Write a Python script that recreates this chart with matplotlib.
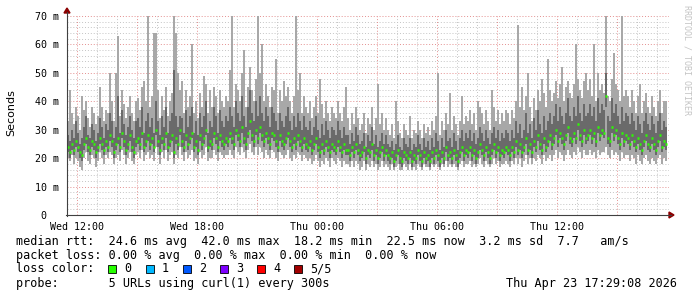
import numpy as np
import matplotlib
matplotlib.use("Agg")
import matplotlib.pyplot as plt
from matplotlib.patches import Polygon, Rectangle
from matplotlib.lines import Line2D

W, H = 697, 297

# samples every 6 minutes starting Wed 11:30, values in ms
med = [
    24, 22, 25, 23, 26, 24, 22, 21, 25, 27, 24, 23, 26, 25, 22, 24, 27, 25, 23, 26,
    24, 28, 26, 22, 25, 27, 24, 29, 26, 23, 25, 28, 24, 22, 26, 27, 25, 29, 24, 26,
    28, 25, 27, 24, 30, 26, 23, 27, 25, 29, 24, 26, 28, 22, 27, 25, 30, 26, 24, 28,
    25, 27, 29, 24, 26, 23, 28, 25, 27, 30, 24, 26, 25, 29, 27, 24, 28, 26, 25, 27,
    26, 29, 27, 25, 30, 28, 26, 31, 27, 25, 29, 33, 28, 26, 30, 27, 31, 28, 26, 29,
    27, 25, 29, 28, 26, 24, 28, 26, 25, 27, 29, 26, 24, 27, 25, 28, 26, 24, 27, 25,
    24, 26, 23, 25, 27, 24, 22, 25, 23, 26, 24, 22, 25, 24, 23, 26, 24, 22, 25, 23,
    23, 21, 24, 22, 25, 23, 21, 22, 24, 20, 23, 22, 25, 21, 23, 20, 22, 24, 21, 23,
    21, 20, 22, 19, 21, 23, 20, 19, 22, 21, 20, 22, 19, 21, 20, 23, 21, 19, 22, 20,
    21, 19, 22, 20, 23, 21, 19, 22, 20, 24, 21, 22, 20, 23, 21, 19, 22, 24, 21, 23,
    22, 24, 21, 23, 20, 22, 25, 23, 21, 24, 22, 20, 23, 25, 22, 24, 21, 23, 22, 24,
    23, 21, 24, 22, 26, 23, 25, 22, 24, 27, 23, 25, 22, 26, 24, 28, 25, 23, 27, 24,
    26, 28, 25, 27, 30, 26, 29, 27, 25, 28, 31, 27, 26, 29, 27, 32, 28, 26, 30, 27,
    28, 30, 27, 29, 26, 31, 28, 30, 29, 42, 27, 26, 31, 28, 30, 27, 25, 29, 26, 28,
    27, 25, 28, 26, 24, 27, 25, 23, 26, 28, 25, 24, 27, 25, 23, 26, 28, 24, 26, 25,
]
lo = [
    20, 19, 21, 18, 20, 19, 17, 16, 20, 22, 19, 18, 21, 20, 17, 19, 22, 20, 18, 21,
    20, 22, 21, 18, 20, 21, 19, 23, 21, 18, 20, 22, 19, 18, 21, 22, 20, 23, 19, 21,
    22, 20, 21, 19, 24, 21, 18, 22, 20, 23, 19, 21, 22, 18, 21, 20, 24, 21, 19, 22,
    20, 21, 23, 19, 20, 18, 22, 20, 21, 24, 19, 20, 20, 23, 21, 19, 22, 21, 20, 21,
    21, 23, 21, 20, 24, 22, 21, 24, 22, 20, 23, 25, 22, 21, 24, 21, 24, 22, 20, 23,
    21, 20, 23, 22, 20, 19, 22, 21, 20, 21, 23, 20, 19, 21, 20, 22, 21, 19, 21, 20,
    19, 20, 18, 19, 21, 19, 17, 19, 18, 20, 19, 17, 20, 19, 18, 20, 19, 17, 19, 18,
    18, 17, 19, 17, 19, 18, 16, 17, 19, 16, 18, 17, 19, 17, 18, 16, 17, 19, 17, 18,
    17, 16, 18, 16, 17, 18, 16, 16, 18, 17, 16, 18, 16, 17, 16, 18, 17, 16, 18, 17,
    17, 16, 18, 17, 18, 17, 16, 18, 17, 19, 17, 18, 17, 18, 17, 16, 18, 19, 17, 18,
    18, 19, 17, 18, 17, 18, 20, 18, 17, 19, 18, 17, 18, 20, 18, 19, 17, 18, 18, 19,
    18, 17, 19, 18, 20, 18, 20, 17, 19, 21, 18, 20, 18, 20, 19, 21, 20, 18, 21, 19,
    20, 21, 19, 21, 23, 20, 22, 21, 19, 21, 23, 21, 20, 22, 21, 24, 22, 20, 23, 21,
    21, 23, 21, 22, 20, 23, 21, 22, 22, 24, 21, 20, 23, 21, 22, 21, 19, 22, 20, 21,
    21, 19, 21, 20, 18, 21, 19, 18, 20, 21, 19, 18, 20, 19, 18, 20, 21, 18, 20, 19,
]
q1 = [
    22, 20, 23, 21, 24, 22, 20, 19, 23, 25, 22, 21, 24, 23, 20, 22, 25, 23, 21, 24,
    22, 26, 24, 20, 23, 25, 22, 27, 24, 21, 23, 26, 22, 20, 24, 25, 23, 27, 22, 24,
    26, 23, 25, 22, 28, 24, 21, 25, 23, 27, 22, 24, 26, 20, 25, 23, 28, 24, 22, 26,
    23, 25, 27, 22, 24, 21, 26, 23, 25, 28, 22, 24, 23, 27, 25, 22, 26, 24, 23, 25,
    24, 27, 25, 23, 28, 26, 24, 29, 25, 23, 27, 30, 26, 24, 28, 25, 29, 26, 24, 27,
    25, 23, 27, 26, 24, 22, 26, 24, 23, 25, 27, 24, 22, 25, 23, 26, 24, 22, 25, 23,
    22, 24, 21, 23, 25, 22, 20, 23, 21, 24, 22, 20, 23, 22, 21, 24, 22, 20, 23, 21,
    21, 19, 22, 20, 23, 21, 19, 20, 22, 18, 21, 20, 23, 19, 21, 18, 20, 22, 19, 21,
    19, 18, 20, 17, 19, 21, 18, 17, 20, 19, 18, 20, 17, 19, 18, 21, 19, 17, 20, 18,
    19, 17, 20, 18, 21, 19, 17, 20, 18, 22, 19, 20, 18, 21, 19, 17, 20, 22, 19, 21,
    20, 22, 19, 21, 18, 20, 23, 21, 19, 22, 20, 18, 21, 23, 20, 22, 19, 21, 20, 22,
    21, 19, 22, 20, 24, 21, 23, 20, 22, 25, 21, 23, 20, 24, 22, 26, 23, 21, 25, 22,
    24, 26, 23, 25, 28, 24, 27, 25, 23, 26, 29, 25, 24, 27, 25, 30, 26, 24, 28, 25,
    26, 28, 25, 27, 24, 29, 26, 28, 27, 38, 25, 24, 29, 26, 28, 25, 23, 27, 24, 26,
    25, 23, 26, 24, 22, 25, 23, 21, 24, 26, 23, 22, 25, 23, 21, 24, 26, 22, 24, 23,
]
q3 = [
    28, 26, 30, 27, 33, 29, 25, 27, 31, 35, 28, 27, 32, 30, 26, 29, 34, 31, 27, 32,
    30, 36, 33, 27, 31, 42, 29, 37, 32, 28, 31, 35, 30, 27, 33, 34, 31, 38, 29, 33,
    36, 31, 34, 29, 40, 33, 28, 35, 31, 38, 29, 33, 36, 51, 35, 31, 35, 34, 29, 37,
    31, 35, 38, 29, 33, 28, 36, 31, 35, 40, 29, 33, 31, 38, 35, 29, 37, 33, 31, 35,
    33, 38, 35, 31, 40, 36, 33, 42, 35, 31, 38, 44, 36, 33, 40, 35, 42, 36, 33, 38,
    35, 31, 38, 36, 33, 30, 36, 33, 31, 35, 38, 33, 30, 35, 31, 36, 33, 30, 35, 31,
    30, 33, 28, 31, 35, 30, 27, 32, 28, 33, 30, 27, 31, 30, 28, 33, 30, 27, 31, 28,
    28, 25, 29, 26, 31, 28, 25, 26, 29, 24, 28, 26, 31, 25, 28, 24, 26, 29, 25, 28,
    25, 24, 26, 23, 25, 28, 24, 23, 27, 25, 24, 27, 23, 25, 24, 28, 25, 23, 27, 24,
    26, 23, 27, 24, 29, 26, 23, 27, 24, 30, 26, 27, 24, 29, 26, 23, 27, 30, 26, 29,
    27, 30, 26, 29, 25, 27, 31, 29, 26, 30, 27, 25, 29, 31, 27, 30, 26, 29, 27, 30,
    29, 26, 30, 27, 33, 29, 32, 27, 30, 36, 29, 32, 27, 34, 30, 37, 32, 29, 35, 30,
    33, 36, 32, 35, 39, 33, 38, 35, 32, 36, 41, 35, 33, 38, 35, 42, 36, 33, 39, 35,
    36, 39, 35, 38, 33, 41, 36, 39, 37, 50, 35, 33, 41, 36, 39, 35, 32, 38, 33, 36,
    35, 32, 36, 33, 30, 35, 32, 29, 33, 36, 32, 30, 35, 32, 29, 33, 36, 30, 33, 31,
]
hi = [
    33, 44, 36, 32, 38, 35, 30, 42, 37, 40, 34, 31, 38, 36, 32, 35, 45, 38, 33, 37,
    36, 50, 40, 33, 50, 63, 35, 44, 39, 34, 38, 42, 36, 33, 40, 41, 37, 45, 47, 40,
    70, 38, 42, 64, 64, 44, 34, 42, 37, 45, 35, 40, 43, 70, 64, 50, 44, 47, 36, 44,
    38, 42, 60, 36, 40, 34, 43, 38, 49, 46, 36, 44, 38, 45, 42, 36, 44, 40, 38, 42,
    40, 51, 70, 38, 46, 44, 40, 50, 58, 38, 45, 52, 44, 40, 48, 70, 50, 60, 40, 46,
    42, 38, 45, 44, 55, 36, 44, 40, 47, 42, 45, 40, 36, 42, 70, 44, 50, 36, 42, 38,
    36, 40, 34, 38, 42, 36, 48, 39, 34, 40, 36, 33, 38, 36, 34, 40, 36, 33, 38, 45,
    34, 30, 36, 32, 38, 34, 30, 32, 36, 29, 34, 32, 38, 30, 34, 46, 32, 36, 30, 34,
    30, 28, 32, 27, 40, 33, 29, 27, 32, 30, 28, 35, 27, 30, 29, 33, 30, 27, 32, 29,
    31, 28, 33, 30, 35, 50, 28, 33, 30, 36, 32, 43, 30, 35, 32, 28, 33, 42, 32, 35,
    33, 37, 32, 36, 30, 40, 38, 36, 32, 37, 33, 30, 44, 38, 33, 37, 32, 36, 33, 37,
    36, 32, 37, 34, 40, 67, 38, 45, 37, 42, 50, 38, 33, 41, 37, 44, 40, 48, 43, 38,
    55, 44, 40, 43, 47, 41, 46, 52, 40, 45, 47, 43, 41, 46, 60, 48, 44, 41, 47, 50,
    44, 48, 42, 60, 40, 50, 44, 46, 43, 70, 42, 40, 48, 57, 46, 44, 40, 70, 42, 44,
    42, 38, 44, 40, 36, 42, 46, 36, 40, 43, 38, 36, 42, 38, 35, 40, 44, 36, 40, 40,
]

x_ticks = [0.5, 6.5, 12.5, 18.5, 24.5]
x_labels = ["Wed 12:00", "Wed 18:00", "Thu 00:00", "Thu 06:00", "Thu 12:00"]
y_ticks = [0, 10, 20, 30, 40, 50, 60, 70]
y_labels = ["0  ", "10 m", "20 m", "30 m", "40 m", "50 m", "60 m", "70 m"]

loss_labels = ["0", "1", "2", "3", "4", "5/5"]
loss_colors = ["#26ff00", "#00b8ff", "#0059ff", "#7e00ff", "#ff0000", "#a10000"]

legend_rows = [
    "median rtt:  24.6 ms avg  42.0 ms max  18.2 ms min  22.5 ms now  3.2 ms sd  7.7   am/s",
    "packet loss: 0.00 % avg  0.00 % max  0.00 % min  0.00 % now",
    "loss color:",
    "probe:       5 URLs using curl(1) every 300s",
]
stamp = "Thu Apr 23 17:29:08 2026"

STEP = 0.1  # hours
MONO = "DejaVu Sans Mono"


def fx(x):
    return x / W


def fy(y):
    return 1 - y / H


fig = plt.figure(figsize=(W / 100, H / 100), dpi=100)
fig.patch.set_facecolor("white")

ax = fig.add_axes([fx(67), fy(215), (669 - 67) / W, (215 - 16) / H])
ax.set_xlim(0, 30.1)
ax.set_ylim(0, 70)
for s in ax.spines.values():
    s.set_visible(False)

# grid
for y in range(2, 71, 2):
    major = y % 10 == 0
    ax.axhline(y, color="#e48f8f" if major else "#c4c4c4", lw=0.7,
               ls=(0, (1, 2)), zorder=0)
for k in range(31):
    xv = 0.5 + k
    major = k % 3 == 0
    ax.axvline(xv, color="#e48f8f" if major else "#c4c4c4", lw=0.7,
               ls=(0, (1, 2)), zorder=0)

# smoke
t = np.arange(len(med)) * STEP
lo_a, hi_a = np.array(lo), np.array(hi)
q1_a, q3_a = np.array(q1), np.array(q3)
ax.bar(t, hi_a - lo_a, bottom=lo_a, width=STEP, align="edge",
       color="#a8a8a8", linewidth=0, zorder=2)
ax.bar(t, q3_a - q1_a, bottom=q1_a, width=STEP, align="edge",
       color="#6a6a6a", linewidth=0, zorder=3)
ax.hlines(med, t, t + STEP, color="#2bff00", lw=1.8, zorder=4)

ax.set_xticks(x_ticks)
ax.set_xticklabels(x_labels, family=MONO, fontsize=7.2)
ax.set_yticks(y_ticks)
ax.set_yticklabels(y_labels, family=MONO, fontsize=7.2)
ax.tick_params(length=0)
ax.tick_params(axis="x", pad=5)
ax.tick_params(axis="y", pad=6)

# axes lines and arrows
fig.add_artist(Line2D([fx(67), fx(67)], [fy(216), fy(12)], color="#404040", lw=0.8))
fig.add_artist(Line2D([fx(66), fx(671)], [fy(215), fy(215)], color="#404040", lw=0.8))
fig.add_artist(Polygon([[fx(64), fy(13)], [fx(70), fy(13)], [fx(67), fy(8)]],
                       closed=True, color="#8b0000", transform=fig.transFigure))
fig.add_artist(Polygon([[fx(669), fy(212)], [fx(669), fy(218)], [fx(674), fy(215)]],
                       closed=True, color="#8b0000", transform=fig.transFigure))

fig.text(fx(11), fy(113), "Seconds", rotation=90, ha="center", va="center",
         fontsize=8, family="DejaVu Sans")
fig.text(fx(687), fy(5), "RRDTOOL / TOBI OETIKER", rotation=-90, ha="center",
         va="top", fontsize=6, family=MONO, color="#c4c4c4")

# legend
row_y = [241, 255, 269, 283]
for txt, yy in zip(legend_rows, row_y):
    fig.text(fx(16), fy(yy), txt, family=MONO, fontsize=8.5, va="center")
box_x = [108, 146, 183, 220, 257, 294]
for bx, lab, col in zip(box_x, loss_labels, loss_colors):
    fig.add_artist(Rectangle((fx(bx), fy(273)), 8 / W, 8 / H, facecolor=col,
                             edgecolor="black", lw=0.6, transform=fig.transFigure))
    fig.text(fx(bx + 16), fy(269), lab, family=MONO, fontsize=8.5, va="center")
fig.text(fx(677), fy(283), stamp, family=MONO, fontsize=8.5, va="center", ha="right")

fig.savefig("out.png", dpi=100, facecolor="white")
